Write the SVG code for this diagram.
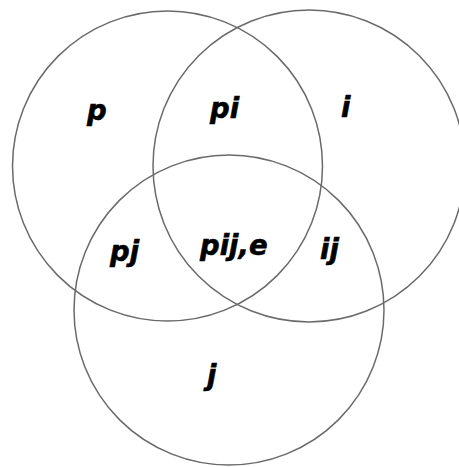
<svg xmlns="http://www.w3.org/2000/svg" width="459" height="467" viewBox="0 0 459 467">
<style>
.c{fill:none;stroke:#6a6a6a;stroke-width:1.5}
.t{font-family:"DejaVu Sans",sans-serif;font-weight:bold;font-style:italic;font-size:27.5px;fill:#000;stroke:#000;stroke-width:0.6}
</style>
<rect width="459" height="467" fill="#fff"/>
<g id="circle-p"><circle class="c" cx="167.5" cy="166" r="155"/></g>
<g id="circle-i"><circle class="c" cx="309" cy="166" r="156"/></g>
<g id="circle-j"><circle class="c" cx="229" cy="310" r="155"/></g>
<g id="labels">
<text class="t" x="87" y="120">p</text>
<text class="t" x="210" y="118">pi</text>
<text class="t" x="341" y="117">i</text>
<text class="t" x="110" y="261">pj</text>
<text class="t" x="200" y="255">pij,e</text>
<text class="t" x="320" y="259">ij</text>
<text class="t" x="207" y="385">j</text>
</g>
</svg>
